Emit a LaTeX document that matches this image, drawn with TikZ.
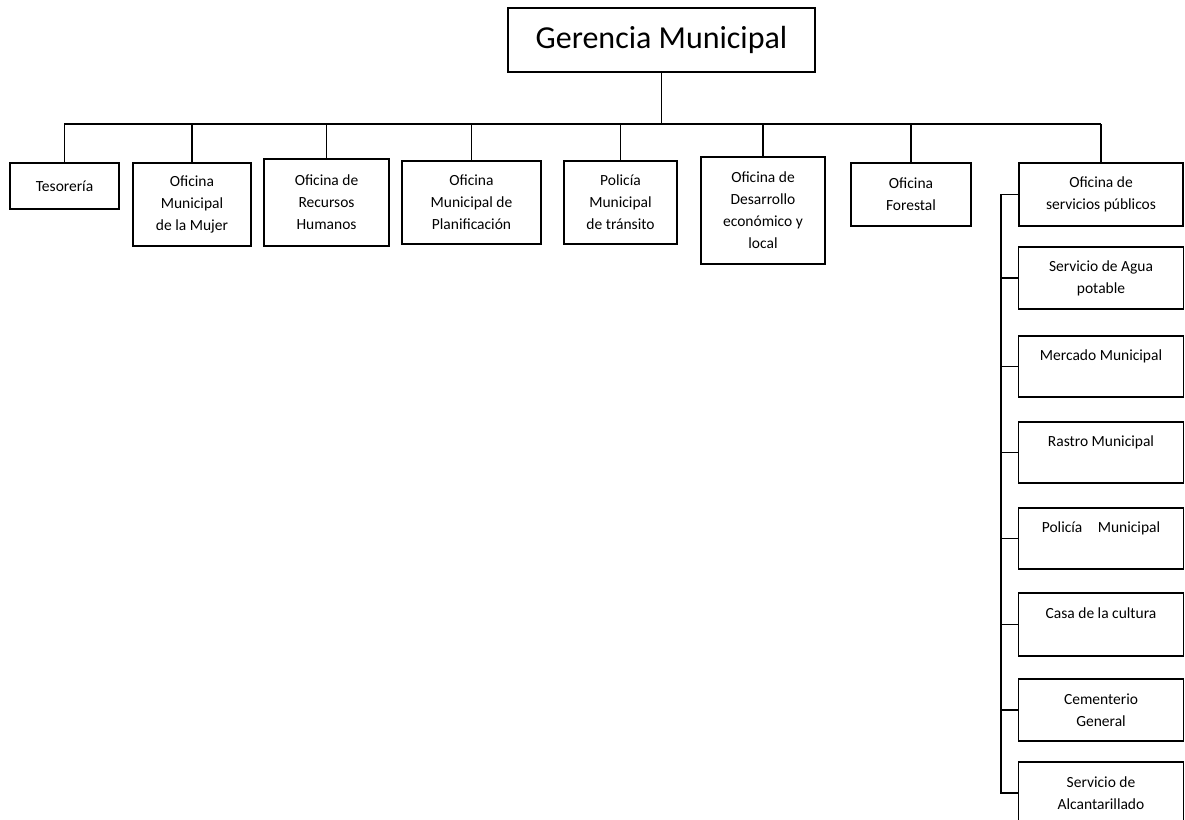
\documentclass[tikz,border=0pt]{standalone}
\usepackage{fontspec}
\setmainfont{Carlito}
\usetikzlibrary{positioning, calc}

\begin{document}
\begin{tikzpicture}[
    x=1pt, y=-1pt,
    line width=1.6pt,
    unit/.style={
        rectangle, draw=black, line width=1.6pt,
        fill=white, inner sep=0pt, align=center,
        font=\fontsize{15.5}{22}\selectfont
    },
    head/.style={
        unit, font=\fontsize{32}{38}\selectfont
    },
    service/.style={
        unit, minimum width=165pt
    },
    line/.style={draw=black, line width=1.6pt}
]
\useasboundingbox (0,0) rectangle (1185,819);

% 1. TOP: Gerencia
\node[head, minimum width=307pt, minimum height=64pt] (Gerencia) at (661.5, 40) {Gerencia Municipal};

\coordinate (busL) at (64, 124);
\coordinate (busR) at (1101, 124);
\draw[line] (Gerencia.south) -- (Gerencia.south |- busL);
\draw[line] (busL) -- (busR);

% 2. SECOND ROW: offices
\node[unit, minimum width=109pt, minimum height=46pt] (Tes) at (64.5, 186) {Tesorería};
\node[unit, minimum width=118pt, minimum height=83pt] (Mujer) at (192, 204.5) {Oficina\\Municipal\\de la Mujer};
\node[unit, minimum width=125pt, minimum height=87pt] (RRHH) at (326.5, 202.5) {Oficina de\\Recursos\\Humanos};
\node[unit, minimum width=139pt, minimum height=83pt] (Plan) at (471.5, 202.5) {Oficina\\Municipal de\\Planificación};
\node[unit, minimum width=113pt, minimum height=83pt] (Transito) at (620.5, 202.5) {Policía\\Municipal\\de tránsito};
\node[unit, minimum width=124pt, minimum height=107pt] (Desarrollo) at (763, 210.5) {Oficina de\\Desarrollo\\económico y\\local};
\node[unit, minimum width=120pt, minimum height=63pt] (Forestal) at (911, 194.5) {Oficina\\Forestal};
\node[unit, minimum width=164pt, minimum height=63pt] (Servicios) at (1101, 194.5) {Oficina de\\servicios públicos};

\foreach \n in {Tes, Mujer, RRHH, Plan, Transito, Desarrollo, Forestal, Servicios}
    \draw[line] (\n.north |- busL) -- (\n.north);

% 3. RIGHT COLUMN: public services
\node[service, minimum height=62pt] (Agua) at (1101, 278) {Servicio de Agua\\potable};
\node[service, minimum height=61pt] (Mercado) at (1101, 366.5) {Mercado Municipal\\\mbox{}};
\node[service, minimum height=61pt] (Rastro) at (1101, 452.5) {Rastro Municipal\\\mbox{}};
\node[service, minimum height=61pt] (PoliciaMun) at (1101, 538.5) {Policía\hspace{1em}Municipal\\\mbox{}};
\node[service, minimum height=63pt] (Casa) at (1101, 624.5) {Casa de la cultura\\\mbox{}};
\node[service, minimum height=62pt] (Cementerio) at (1101, 710) {Cementerio\\General};
\node[service, minimum height=62pt] (Alcantarillado) at (1101, 793) {Servicio de\\Alcantarillado};

\coordinate (spine) at (1001, 194.5);
\draw[line] (Servicios.west) -- (Servicios.west -| spine) -- (Alcantarillado.west -| spine) -- (Alcantarillado.west);
\foreach \n in {Agua, Mercado, Rastro, PoliciaMun, Casa, Cementerio}
    \draw[line] (\n.west -| spine) -- (\n.west);

\end{tikzpicture}
\end{document}
